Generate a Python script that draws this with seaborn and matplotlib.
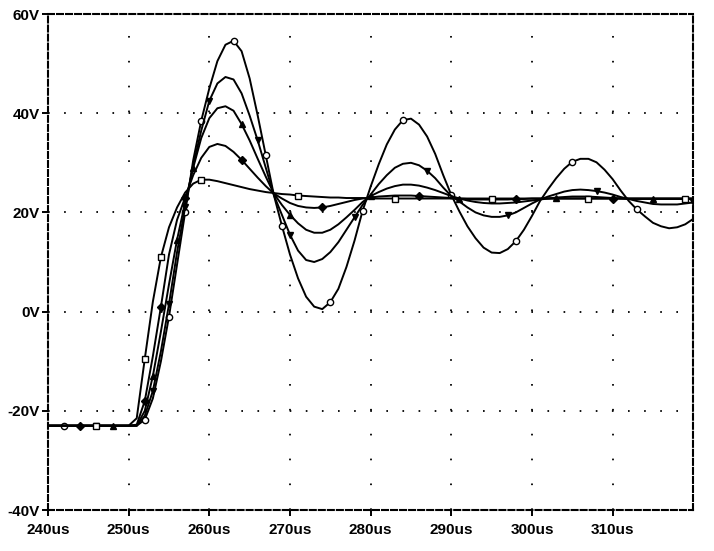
import numpy as np
import pandas as pd
import seaborn as sns
import matplotlib
matplotlib.use("Agg")
import matplotlib.pyplot as plt

# time axis (us) and the five traces
time_us = [240, 242, 244, 246, 248, 250] + list(range(251, 321))

trace_a = [-23, -23, -23, -23, -23, -23,
           -23, -21.8, -17.5, -10, -1, 9.5, 20, 30.5, 38.5, 45,
           50.5, 53.8, 54.6, 52.5, 47, 39.5, 31.5, 23.5, 17.3, 11.5,
           6.7, 3.0, 1.0, 0.5, 1.9, 4.6, 9.0, 14.3, 20.3, 25.2,
           29.7, 33.7, 36.7, 38.6, 38.9, 37.7, 35.3, 31.8, 27.5, 23.5,
           20.2, 17.2, 14.8, 12.9, 11.9, 11.8, 12.6, 14.2, 16.5, 19.3,
           22.3, 24.7, 26.9, 28.8, 30.2, 30.8, 30.8, 30.1, 28.6, 26.7,
           24.4, 22.3, 20.6, 19.2, 17.9, 17.2, 16.8, 17.0, 17.6, 18.7]

trace_b = [-23, -23, -23, -23, -23, -23,
           -23, -21, -16, -8, 1.5, 12, 21, 29.5, 36.5, 42.5,
           46, 47.3, 46.8, 44, 39.5, 34.5, 29, 23.5, 19.5, 15.5,
           12.3, 10.4, 10.0, 10.6, 12.0, 14.0, 16.5, 19.0, 21.5, 23.6,
           25.7, 27.5, 29.0, 29.8, 30.0, 29.5, 28.4, 26.9, 25.0, 23.3,
           22.2, 21.0, 20.0, 19.4, 19.1, 19.1, 19.4, 20.0, 20.9, 21.8,
           22.6, 23.2, 23.7, 24.2, 24.5, 24.6, 24.5, 24.3, 24.0, 23.6,
           23.1, 22.7, 22.3, 22.0, 21.7, 21.6, 21.6, 21.6, 21.8, 22.0]

trace_c = [-23, -23, -23, -23, -23, -23,
           -23, -20, -13, -4, 5.5, 14.5, 22, 29, 35, 39,
           41, 41.4, 40.5, 37.8, 34.5, 30.8, 27.2, 23.8, 21.5, 19.5,
           17.8, 16.5, 15.9, 15.9, 16.5, 17.6, 19.0, 20.5, 22.1, 23.3,
           24.1, 24.8, 25.3, 25.6, 25.6, 25.4, 25.0, 24.5, 23.9, 23.3,
           22.8, 22.4, 22.1, 21.9, 21.8, 21.8, 21.9, 22.0, 22.2, 22.4,
           22.6, 22.8, 23.0, 23.1, 23.2, 23.2, 23.2, 23.1, 23.0, 22.9,
           22.8, 22.7, 22.7, 22.7, 22.7, 22.7, 22.7, 22.7, 22.7, 22.7]

trace_d = [-23, -23, -23, -23, -23, -23,
           -22.8, -18, -9, 1, 11.5, 18.5, 23, 27.5, 31, 33.2,
           33.8, 33.4, 32.2, 30.6, 28.8, 27, 25.3, 23.8, 22.8, 21.9,
           21.3, 21.0, 20.9, 21.0, 21.3, 21.7, 22.1, 22.5, 22.8, 23.0,
           23.2, 23.3, 23.4, 23.4, 23.4, 23.3, 23.2, 23.1, 23.0, 22.9,
           22.8, 22.7, 22.6, 22.6, 22.6, 22.6, 22.6, 22.7, 22.7, 22.8,
           22.8, 22.8, 22.8, 22.8, 22.8, 22.8, 22.8, 22.8, 22.8, 22.8,
           22.8, 22.8, 22.8, 22.8, 22.8, 22.8, 22.8, 22.8, 22.8, 22.8]

trace_e = [-23, -23, -23, -23, -23, -23,
           -21.5, -9.5, 2, 11, 17, 21, 24, 25.8, 26.6, 26.6,
           26.3, 25.9, 25.5, 25.1, 24.7, 24.4, 24.1, 23.9, 23.7, 23.6,
           23.4, 23.3, 23.2, 23.1, 23.0, 23.0, 22.9, 22.9, 22.9, 22.8,
           22.8, 22.8, 22.8, 22.8, 22.8, 22.8, 22.8, 22.8, 22.8, 22.8,
           22.8, 22.8, 22.8, 22.8, 22.8, 22.8, 22.8, 22.8, 22.8, 22.8,
           22.8, 22.8, 22.8, 22.8, 22.8, 22.8, 22.8, 22.8, 22.8, 22.8,
           22.8, 22.8, 22.8, 22.8, 22.8, 22.8, 22.8, 22.8, 22.8, 22.8]

x_ticks = [240, 250, 260, 270, 280, 290, 300, 310]
y_ticks = [-40, -20, 0, 20, 40, 60]

traces = [
    (trace_a, "o", "white", (0.01, 0.12)),
    (trace_b, "v", "black", (0.05, 0.12)),
    (trace_c, "^", "black", (0.08, 0.12)),
    (trace_d, "D", "black", (0.03, 0.12)),
    (trace_e, "s", "white", (0.06, 0.12)),
]

sns.set_style("white")
plt.rcParams["font.family"] = ["Liberation Sans", "DejaVu Sans"]
plt.rcParams["font.weight"] = "bold"
plt.rcParams["lines.scale_dashes"] = False

fig = plt.figure(figsize=(7.14, 5.51), dpi=100)
ax = fig.add_axes([48 / 714, 1 - 510 / 551, (693.3 - 48) / 714, (510 - 14) / 551])

# dotted grid like the original printout
for yv in y_ticks[1:-1]:
    ax.axhline(yv, color="black", lw=1.3, ls=(0, (1.2, 10.4)), zorder=0)
for xv in x_ticks[1:]:
    ax.axvline(xv, color="black", lw=1.3, ls=(0, (1.2, 16.7)), zorder=0)

for vals, mk, fc, me in traces:
    df = pd.DataFrame({"t": time_us, "v": vals})
    sns.lineplot(data=df, x="t", y="v", ax=ax, color="black", linewidth=1.4,
                 marker=mk, markersize=4.5, markerfacecolor=fc,
                 markeredgecolor="black", markeredgewidth=1.0, markevery=me)

ax.set_xlim(240, 320)
ax.set_ylim(-40, 60)
ax.set_xticks(x_ticks)
ax.set_xticklabels([f"{v}us" for v in x_ticks])
ax.set_yticks(y_ticks)
ax.set_yticklabels([f"{v}V" for v in y_ticks])
ax.set_xlabel("")
ax.set_ylabel("")
ax.tick_params(axis="both", direction="out", length=4, width=1.4, color="black",
               labelsize=11, labelcolor="black")
ax.tick_params(axis="x", pad=5)
ax.tick_params(axis="y", pad=2)
ax.xaxis.set_ticks_position("bottom")
ax.yaxis.set_ticks_position("left")

for side in ["top", "bottom", "left", "right"]:
    ax.spines[side].set_visible(True)
    ax.spines[side].set_color("black")
    ax.spines[side].set_linewidth(1.5)
    ax.spines[side].set_linestyle((0, (4.3, 2.2)))

fig.savefig("out.png", dpi=100, facecolor="white")
